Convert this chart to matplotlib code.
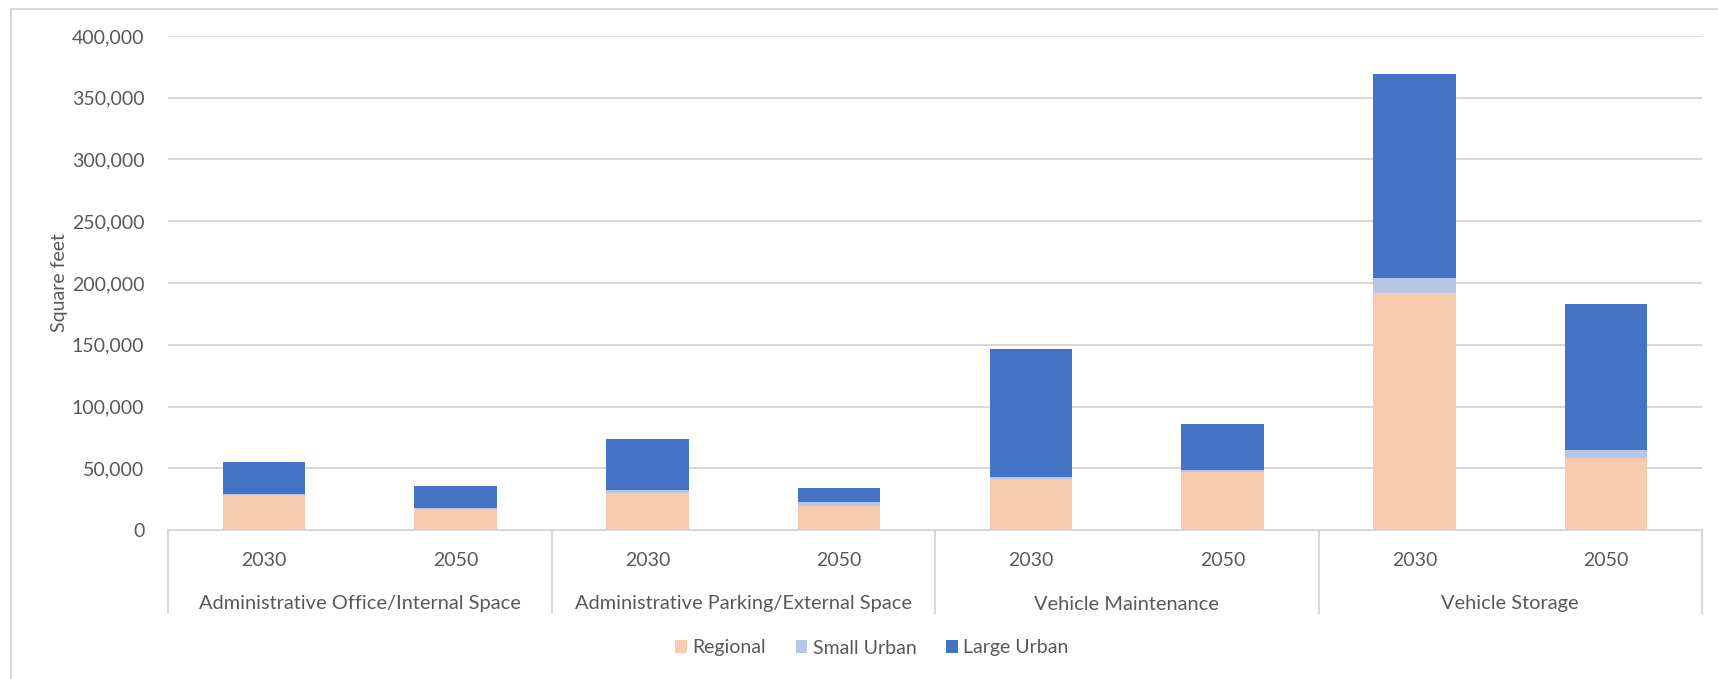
import matplotlib
matplotlib.use("Agg")
import matplotlib.pyplot as plt
from matplotlib.lines import Line2D
from matplotlib.patches import Patch

# Space needs by facility type and horizon year (square feet)
categories = [
    "Administrative Office/Internal Space",
    "Administrative Parking/External Space",
    "Vehicle Maintenance",
    "Vehicle Storage",
]
years = ["2030", "2050"]
regional = [28000, 17000, 29700, 19800, 41300, 47000, 191900, 58400]
small_urban = [1000, 1000, 2500, 2700, 1500, 1500, 11900, 6300]
large_urban = [25700, 17700, 41200, 11800, 103900, 37100, 165400, 118700]

series = [
    ("Regional", regional, "#F8CBAD"),
    ("Small Urban", small_urban, "#B4C7E7"),
    ("Large Urban", large_urban, "#4472C4"),
]

TEXT = "#595959"
GRID = "#D9D9D9"
FS = 14
plt.rcParams["font.family"] = ["Lato", "DejaVu Sans"]

W, H = 1718, 679
Y0, Y1 = 530, 36  # pixel rows of the zero line and the top gridline
fig = plt.figure(figsize=(W / 100, H / 100), dpi=100)
ax = fig.add_axes([168 / W, 1 - Y0 / H, (1702 - 168) / W, (Y0 - Y1) / H])

x = list(range(len(regional)))
bottom = [0] * len(x)
for name, vals, color in series:
    ax.bar(x, vals, width=0.43, bottom=bottom, color=color, label=name, zorder=3)
    bottom = [b + v for b, v in zip(bottom, vals)]

ax.set_xlim(-0.5, len(x) - 0.5)
ax.set_ylim(0, 400000)
ax.set_yticks(range(0, 400001, 50000))
ax.yaxis.set_major_formatter(matplotlib.ticker.FuncFormatter(lambda v, p: f"{int(v):,}"))
ax.grid(axis="y", color=GRID, linewidth=1.5, zorder=0)
ax.tick_params(axis="y", length=0, pad=17, labelsize=FS, labelcolor=TEXT)
ax.set_ylabel("Square feet", fontsize=FS, color=TEXT, labelpad=3)

for s in ["top", "right", "left"]:
    ax.spines[s].set_visible(False)
ax.spines["bottom"].set_color(GRID)
ax.spines["bottom"].set_linewidth(1.5)

ax.set_xticks(x)
ax.set_xticklabels([])
ax.tick_params(axis="x", length=0)

# Two-level category axis: years, then facility groups with separators
trans = ax.get_xaxis_transform()
px = 1 / (Y0 - Y1)
for i, xi in enumerate(x):
    ax.text(xi, -(561 - Y0) * px, years[i % len(years)], transform=trans,
            ha="center", va="center", fontsize=FS, color=TEXT)
for g in range(len(categories) + 1):
    xs = g * len(years) - 0.5
    ax.add_line(Line2D([xs, xs], [0, -(613 - Y0) * px], transform=trans, color=GRID,
                       linewidth=1.5, clip_on=False))
for g, name in enumerate(categories):
    ax.text(g * len(years) + 0.5, -(604 - Y0) * px, name, transform=trans,
            ha="center", va="center", fontsize=FS + 0.4, color=TEXT)

handles = [Patch(facecolor=c, edgecolor="none") for _, _, c in series]
fig.legend(handles, [n for n, _, _ in series], loc="center", ncol=3,
           bbox_to_anchor=(872 / W, 1 - 648 / H), frameon=False, fontsize=FS,
           labelcolor=TEXT, handlelength=0.6, handleheight=0.6, handletextpad=0.3,
           columnspacing=1.5)

# Chart frame
fig.add_artist(Line2D([11 / W, 1], [1 - 9 / H, 1 - 9 / H], color=GRID, linewidth=1.5))
fig.add_artist(Line2D([11 / W, 11 / W], [0, 1 - 9 / H], color=GRID, linewidth=1.5))

fig.savefig("out.png", dpi=100, facecolor="white")
